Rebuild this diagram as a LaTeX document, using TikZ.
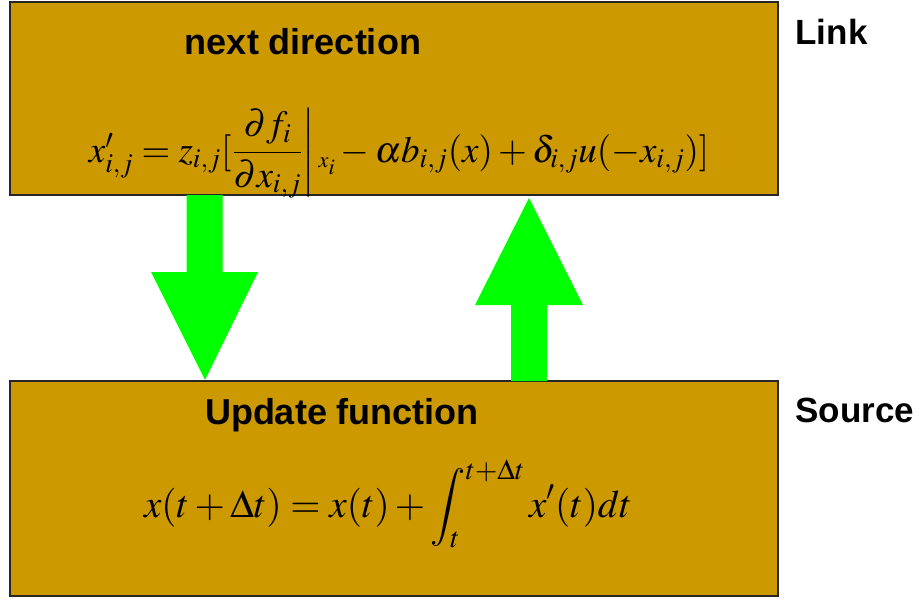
\documentclass[tikz,border=0pt]{standalone}
\usepackage{amsmath}
\usepackage{mathptmx}
\usepackage[no-math]{fontspec}
\newfontfamily\labelfont{Liberation Sans}
\usetikzlibrary{calc, positioning}

\definecolor{boxgold}{RGB}{204,153,0}
\definecolor{arrowgreen}{RGB}{0,255,0}

\tikzset{
  stagebox/.style={draw=black!85, line width=1.3pt, fill=boxgold,
    minimum width=768pt, inner sep=0pt},
  blockarrow/.style={fill=arrowgreen, draw=none},
  headline/.style={font=\labelfont\bfseries\fontsize{36}{40}\selectfont, anchor=base},
  sidelabel/.style={font=\labelfont\bfseries\fontsize{35}{40}\selectfont, anchor=base west},
  formula/.style={anchor=base, inner sep=0pt},
}

\begin{document}
\begin{tikzpicture}[x=1pt,y=-1pt]
\useasboundingbox (0,0) rectangle (921,599);

% the two stages
\node[stagebox, minimum height=193pt] (link) at (394,98.5) {};
\node[stagebox, minimum height=215pt] (source) at (394,488.5) {};

\node[headline] (nextdir) at (303,55) {next direction};
\node[formula, font=\fontsize{37}{41}\selectfont] (linkeq) at (399,162)
  {$x'_{i,j} = z_{i,j}[\left.\dfrac{\partial f_i}{\partial x_{i,j}}\right|{}_{\scriptscriptstyle x_i}
    - \alpha b_{i,j}(x) + \delta_{i,j}u(-x_{i,j})]$};

\node[headline] (update) at (342,424) {Update function};
\node[formula, font=\fontsize{39}{43}\selectfont] (sourceeq) at (388,517)
  {$x(t+\Delta t) = x(t) + \displaystyle\int_t^{t+\Delta t} x'(t)dt$};

\node[sidelabel] (linklab) at (792,45) {Link};
\node[sidelabel] (sourcelab) at (792,422) {Source};

% green block arrows
\fill[blockarrow] (186.5,195) -- (222.5,195) -- (222.5,272) -- (258,272)
  -- (205,380) -- (151,272) -- (186.5,272) -- cycle;
\fill[blockarrow] (511,381) -- (547,381) -- (547,305) -- (583,305)
  -- (529,198) -- (475,305) -- (511,305) -- cycle;
\end{tikzpicture}
\end{document}
